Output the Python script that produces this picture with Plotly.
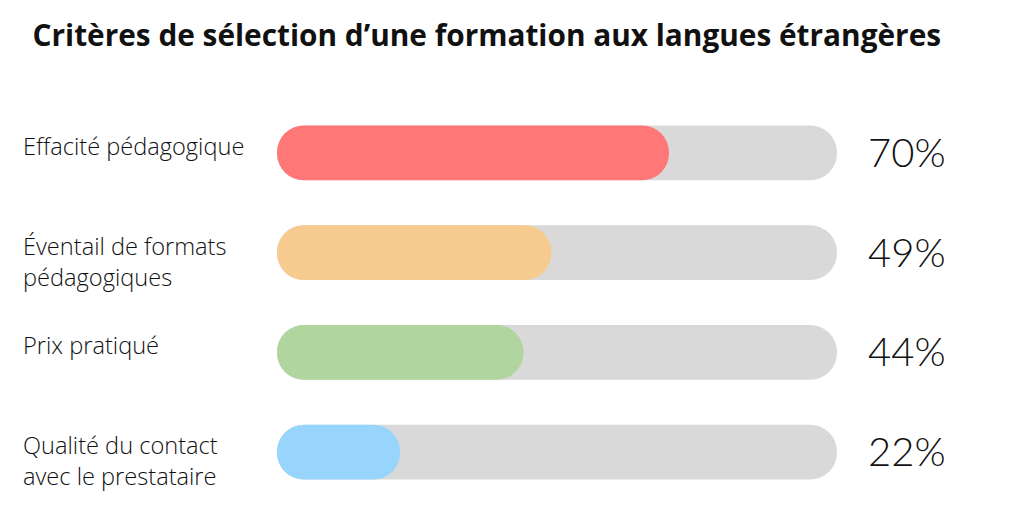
import plotly.graph_objects as go

# data
criteria = [
    "Effacité pédagogique",
    "Éventail de formats<br>pédagogiques",
    "Prix pratiqué",
    "Qualité du contact<br>avec le prestataire",
]
shares = [70, 49, 44, 22]
bar_colors = ["#FF7777", "#F7CA8F", "#B0D59E", "#97D5FC"]
track_max = 100

fig = go.Figure()

# with an explicit base plotly rounds both ends of the bar -> pill shape
fig.add_trace(go.Bar(
    x=[track_max] * len(criteria), base=[0] * len(criteria), y=criteria,
    orientation="h", width=0.55,
    marker=dict(color="#D9D9D9", line=dict(width=0)),
    hoverinfo="skip", showlegend=False,
))
fig.add_trace(go.Bar(
    x=shares, base=[0] * len(criteria), y=criteria,
    orientation="h", width=0.55,
    marker=dict(color=bar_colors, line=dict(width=0)),
    hoverinfo="skip", showlegend=False,
))

# labels on the left and percentages on the right
for name, val in zip(criteria, shares):
    fig.add_annotation(
        x=0, xref="paper", xanchor="left", xshift=-256,
        y=name, yref="y", yanchor="top", yshift=25,
        text=name, showarrow=False, align="left",
        font=dict(family="Open Sans", size=23.6, color="#111111", weight=300),
    )
    fig.add_annotation(
        x=1, xref="paper", xanchor="left", xshift=29,
        y=name, yref="y", yanchor="middle", yshift=1,
        text=f"{val}%", showarrow=False,
        font=dict(family="Lato", size=40, color="#111111", weight=300),
    )

fig.update_layout(
    width=1023, height=532,
    margin=dict(l=269, r=194, t=95, b=38),
    paper_bgcolor="white", plot_bgcolor="white",
    barmode="overlay", barcornerradius=28,
    title=dict(
        text="<b>Critères de sélection d’une formation aux langues étrangères</b>",
        x=0.024, xanchor="left", y=0.949, yanchor="middle",
        font=dict(family="Open Sans", size=29.8, color="#111111", weight=800),
    ),
    xaxis=dict(range=[0, track_max], visible=False, fixedrange=True),
    yaxis=dict(range=[len(criteria) - 0.5, -0.5], visible=False,
               categoryorder="array", categoryarray=criteria),
)

fig.write_html("out.html")
